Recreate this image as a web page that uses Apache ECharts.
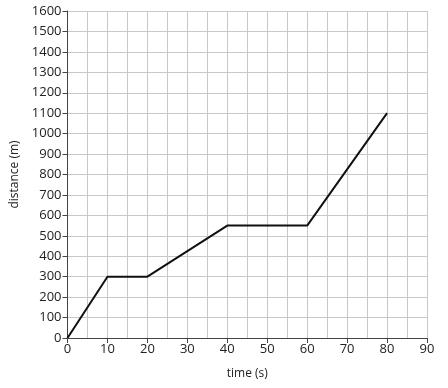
<!DOCTYPE html>
<html><head><meta charset="utf-8">
<script src="https://cdn.jsdelivr.net/npm/echarts@6/dist/echarts.min.js"></script>
<style>html,body{margin:0;padding:0;background:#fff}#c{width:448px;height:388px}</style>
</head><body><div id="c"></div>
<script>
const times = [0, 10, 20, 40, 60, 80];
const distances = [0, 300, 300, 550, 550, 1100];
const xTicks = [0, 10, 20, 30, 40, 50, 60, 70, 80, 90];
const yTicks = [0,100,200,300,400,500,600,700,800,900,1000,1100,1200,1300,1400,1500,1600];

const chart = echarts.init(document.getElementById('c'), null, {renderer: 'canvas'});
const font = '"Open Sans", sans-serif';
chart.setOption({
  animation: false,
  grid: {left: 67.5, right: 21, top: 11, bottom: 50, containLabel: false},
  xAxis: {
    type: 'value', min: xTicks[0], max: xTicks[xTicks.length-1], interval: 10,
    name: 'time (s)', nameLocation: 'middle', nameGap: 30,
    nameTextStyle: {color: '#222', fontSize: 12, fontFamily: font},
    axisLine: {show: true, lineStyle: {color: '#444', width: 1}},
    axisTick: {show: true, length: 5, lineStyle: {color: '#444'}},
    axisLabel: {color: '#222', fontSize: 13, fontFamily: font, margin: 5, formatter: v => String(v)},
    splitLine: {show: true, lineStyle: {color: '#c8c8c8', width: 1}},
    minorTick: {show: false, splitNumber: 2},
    minorSplitLine: {show: true, lineStyle: {color: '#c8c8c8', width: 1}}
  },
  yAxis: {
    type: 'value', min: yTicks[0], max: yTicks[yTicks.length-1], interval: 100,
    name: 'distance (m)', nameLocation: 'middle', nameGap: 44, nameRotate: 90,
    nameTextStyle: {color: '#222', fontSize: 12, fontFamily: font},
    axisLine: {show: true, lineStyle: {color: '#444', width: 1}},
    axisTick: {show: true, length: 5, lineStyle: {color: '#444'}},
    axisLabel: {color: '#222', fontSize: 13, fontFamily: font, margin: 6, formatter: v => String(v)},
    splitLine: {show: true, lineStyle: {color: '#c8c8c8', width: 1}}
  },
  series: [{
    type: 'line', data: times.map((t, i) => [t, distances[i]]),
    showSymbol: false, lineStyle: {color: '#111', width: 2}
  }]
});
</script></body></html>
